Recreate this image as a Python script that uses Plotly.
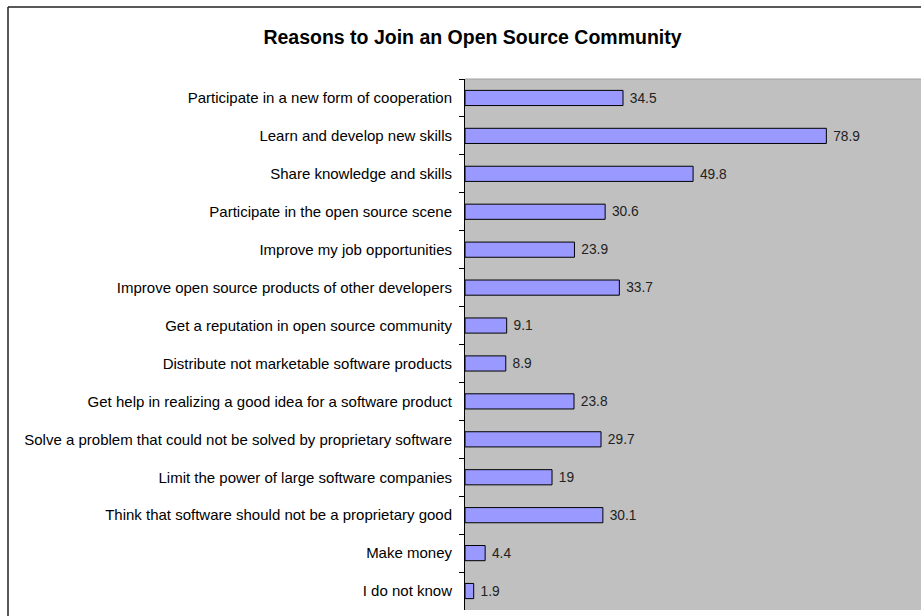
import plotly.graph_objects as go

categories = [
    "Participate in a new form of cooperation",
    "Learn and develop new skills",
    "Share knowledge and skills",
    "Participate in the open source scene",
    "Improve my job opportunities",
    "Improve open source products of other developers",
    "Get a reputation in open source community",
    "Distribute not marketable software products",
    "Get help in realizing a good idea for a software product",
    "Solve a problem that could not be solved by proprietary software",
    "Limit the power of large software companies",
    "Think that software should not be a proprietary good",
    "Make money",
    "I do not know",
]
values = [34.5, 78.9, 49.8, 30.6, 23.9, 33.7, 9.1, 8.9, 23.8, 29.7, 19, 30.1, 4.4, 1.9]
value_labels = ["34.5", "78.9", "49.8", "30.6", "23.9", "33.7", "9.1", "8.9", "23.8", "29.7", "19", "30.1", "4.4", "1.9"]

W, H = 921, 616
L, R, T, B = 465, 0, 79, 6
pw = W - L - R
ph = H - T - B

fig = go.Figure(go.Bar(
    x=values,
    y=categories,
    orientation="h",
    width=0.4,
    marker=dict(color="#9999FF", line=dict(color="#000000", width=1)),
    text=value_labels,
    texttemplate="\u00a0%{text}",
    textposition="outside",
    textfont=dict(family="Liberation Sans, Arial, sans-serif", size=14.5, color="#222222"),
    cliponaxis=False,
    hoverinfo="x+y",
))

fig.update_layout(
    width=W, height=H,
    margin=dict(l=L, r=R, t=T, b=B, pad=0),
    paper_bgcolor="#FFFFFF",
    plot_bgcolor="#C0C0C0",
    showlegend=False,
    font=dict(family="Liberation Sans, Arial, sans-serif", size=12, color="#000000"),
    title=dict(
        text="<b>Reasons to Join an Open Source Community</b>",
        font=dict(size=19.5, color="#000000"),
        xref="container", yref="container",
        x=472.5 / W, y=1 - 37 / H,
        xanchor="center", yanchor="middle",
    ),
    xaxis=dict(
        range=[0, pw / 4.58],
        showgrid=False, zeroline=False, showticklabels=False,
        ticks="", showline=False, fixedrange=True,
    ),
    yaxis=dict(
        type="category",
        range=[13.5, -0.5],
        showgrid=False, zeroline=False,
        showline=True, linecolor="#000000", linewidth=1,
        ticks="outside", ticklen=5, tickcolor="#000000", tickwidth=1,
        tickson="boundaries",
        ticklabelstandoff=9,
        tickfont=dict(size=15, color="#000000"),
        fixedrange=True,
    ),
    shapes=[
        dict(type="line", xref="paper", yref="paper",
             x0=(8 - L) / pw, x1=1.2, y0=(H - B - 7) / ph, y1=(H - B - 7) / ph,
             line=dict(color="#222222", width=1.5)),
        dict(type="line", xref="paper", yref="paper",
             x0=(8 - L) / pw, x1=(8 - L) / pw, y0=(H - B - 7) / ph, y1=-0.2,
             line=dict(color="#222222", width=1.5)),
        dict(type="line", xref="paper", yref="paper",
             x0=0, x1=1, y0=1, y1=1,
             line=dict(color="#A0A0A0", width=1)),
    ],
)

fig.write_html(
    "out.html",
    config={"displayModeBar": False},
    post_script="document.body.style.margin='0';document.documentElement.style.overflow='hidden';",
)
